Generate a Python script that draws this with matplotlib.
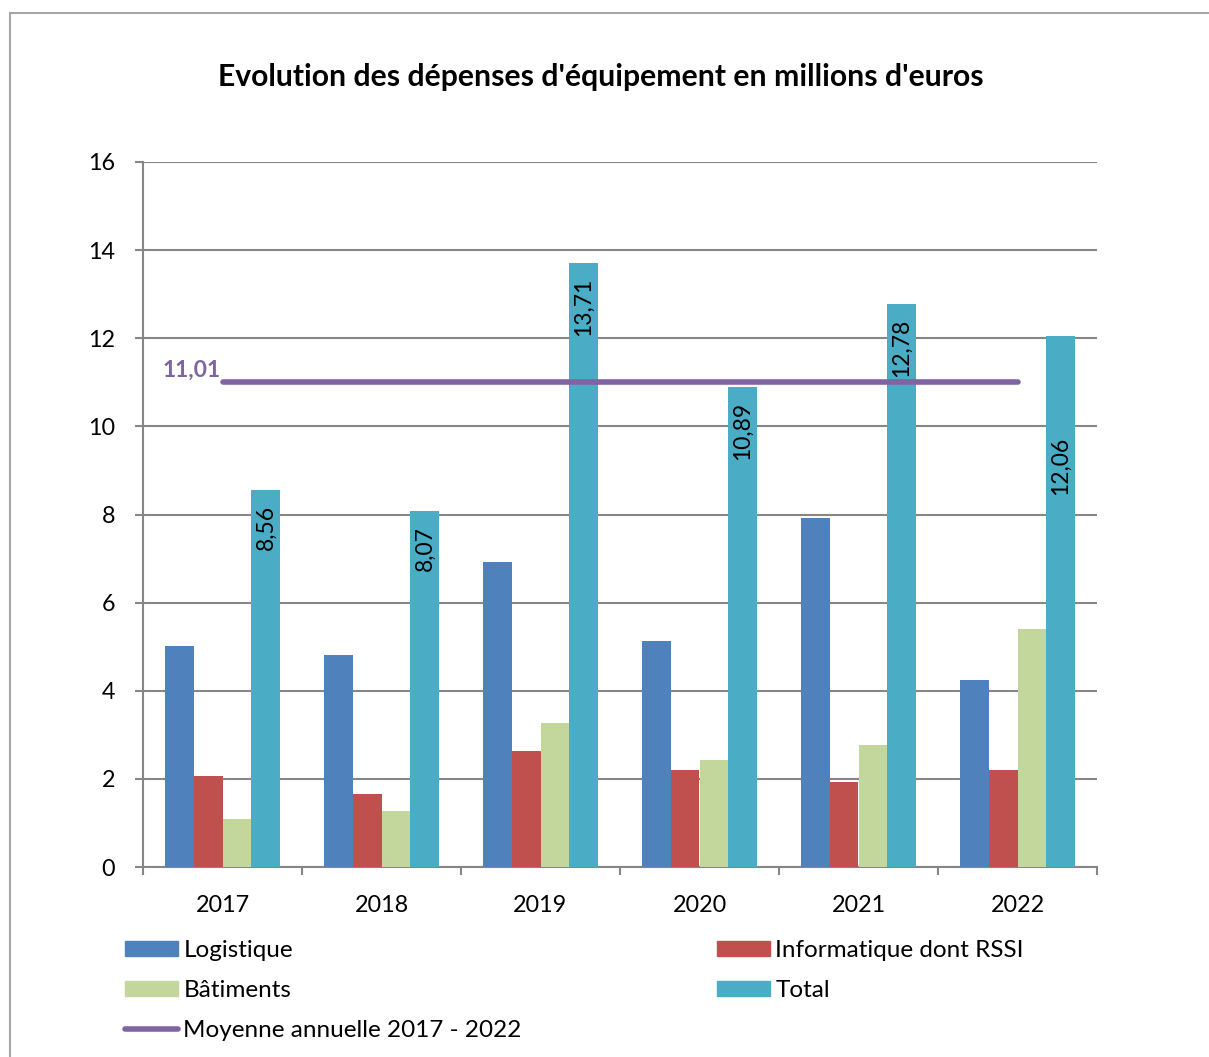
import matplotlib.pyplot as plt
import matplotlib.patches as mpatches
from matplotlib.lines import Line2D
import numpy as np

plt.rcParams['font.family'] = ['Lato', 'DejaVu Sans']

annees = ['2017', '2018', '2019', '2020', '2021', '2022']
logistique = [5.02, 4.82, 6.93, 5.13, 7.92, 4.24]
informatique = [2.07, 1.66, 2.63, 2.21, 1.93, 2.21]
batiments = [1.09, 1.27, 3.27, 2.43, 2.77, 5.41]
total = [8.56, 8.07, 13.71, 10.89, 12.78, 12.06]
moyenne = 11.01

c_log = '#4F81BD'
c_info = '#C0504D'
c_bat = '#C3D69B'
c_tot = '#4BACC6'
c_moy = '#8064A2'
c_grid = '#868686'

W, H = 1209, 1057
fig = plt.figure(figsize=(W/100, H/100), dpi=100)
ax = fig.add_axes([143/W, 1-867/H, (1097-143)/W, (867-162)/H])

# cadre extérieur
fig.patches.append(mpatches.Rectangle((10/W, -0.1), 1.2, 1-13/H+0.1, transform=fig.transFigure,
                                      fill=False, edgecolor='#A6A6A6', linewidth=1.5))

x = np.arange(len(annees))
bw = 0.182
series = [logistique, informatique, batiments, total]
couleurs = [c_log, c_info, c_bat, c_tot]
for k, (vals, col) in enumerate(zip(series, couleurs)):
    ax.bar(x + (k-1.5)*bw, vals, bw, color=col, zorder=3)

# étiquettes Total
decal = [0, 0, 0, 0, 0, -86]
for i, v in enumerate(total):
    ax.annotate(f"{v:.2f}".replace('.', ','), (x[i] + 1.5*bw, v), xytext=(0, -15 + decal[i]),
                textcoords='offset pixels', rotation=90, ha='center', va='top',
                fontsize=16.5, color='black', zorder=5)

# ligne moyenne
ax.plot([x[0], x[-1]], [moyenne, moyenne], color=c_moy, lw=4, solid_capstyle='round', zorder=4)
ax.annotate(f"{moyenne:.2f}".replace('.', ','), (x[0], moyenne), xytext=(-2, 1),
            textcoords='offset pixels', ha='right', va='bottom', fontsize=16.5,
            fontweight='bold', color=c_moy, zorder=5)

ax.set_xlim(-0.5, len(annees)-0.5)
ax.set_ylim(0, 16)
ax.set_yticks(range(0, 17, 2))
ax.yaxis.grid(True, color=c_grid, linewidth=1.5, zorder=0)
ax.set_axisbelow(True)
for s in ['top', 'right']:
    ax.spines[s].set_visible(False)
for s in ['left', 'bottom']:
    ax.spines[s].set_color(c_grid)
    ax.spines[s].set_linewidth(1.5)
ax.set_xticks(x)
ax.set_xticklabels(annees)
ax.set_xticks(np.arange(-0.5, len(annees)), minor=True)
ax.tick_params(axis='x', which='major', length=0, pad=20, labelsize=16.8)
ax.tick_params(axis='x', which='minor', length=6, width=1.5, color=c_grid, direction='out')
ax.tick_params(axis='y', length=6, width=1.5, color=c_grid, pad=14, labelsize=16.8)

fig.text(601/W, 1-77/H, "Evolution des dépenses d'équipement en millions d'euros",
         ha='center', va='center', fontsize=21.7, fontweight='bold')

h_log = mpatches.Patch(color=c_log, label='Logistique')
h_info = mpatches.Patch(color=c_info, label='Informatique dont RSSI')
h_bat = mpatches.Patch(color=c_bat, label='Bâtiments')
h_tot = mpatches.Patch(color=c_tot, label='Total')
h_moy = Line2D([], [], color=c_moy, lw=4, solid_capstyle='round', label='Moyenne annuelle 2017 - 2022')

kw = dict(frameon=False, fontsize=17.5, handlelength=2.2, handleheight=0.6, handletextpad=0.2,
          labelspacing=0.78, borderaxespad=0, borderpad=0, loc='upper left')
fig.legend(handles=[h_log, h_bat, h_moy], bbox_to_anchor=(125/W, 1-940/H), **kw)
fig.legend(handles=[h_info, h_tot], bbox_to_anchor=(717/W, 1-940/H), **kw)

fig.savefig('out.png', dpi=100)
